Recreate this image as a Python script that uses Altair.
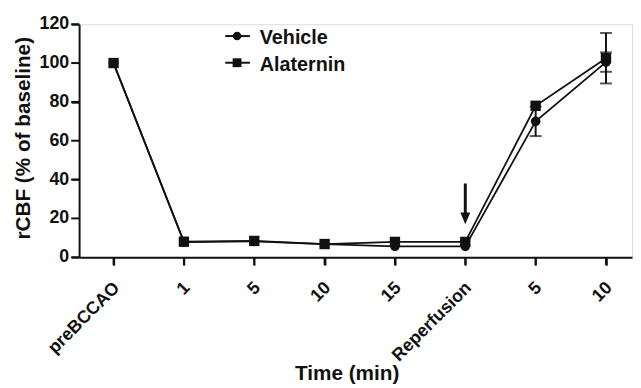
import altair as alt
import pandas as pd

categories = ["preBCCAO", "1", "5", "10", "15", "Reperfusion", "5", "10"]
vehicle = [100, 7.8, 8.2, 6.8, 5.6, 5.6, 70, 100.5]
alaternin = [100, 8.0, 8.4, 6.8, 7.9, 7.9, 78, 102.5]
vehicle_err = [0, 0, 0, 0, 0, 0, 7.6, 5]
alaternin_err = [0, 0, 0, 0, 0, 0, 0, 13]
y_ticks = [0, 20, 40, 60, 80, 100, 120]
series_names = ["Vehicle", "Alaternin"]
arrow_index = 5
arrow_top, arrow_head = 38, 20

FONT = "Liberation Sans"
INK = "#111"
H = 236

rows = []
for i, c in enumerate(categories):
    for name, vals, errs in ((series_names[0], vehicle, vehicle_err), (series_names[1], alaternin, alaternin_err)):
        rows.append({"idx": i, "cat": c, "series": name, "value": vals[i],
                     "lo": vals[i] - errs[i], "hi": vals[i] + errs[i], "err": errs[i]})
df = pd.DataFrame(rows)

label_expr = "[" + ",".join("'" + c + "'" for c in categories) + "][datum.value]"

xscale = alt.Scale(domain=[-0.49, 7.37], nice=False, zero=False)
yscale = alt.Scale(domain=[0, 120], nice=False, zero=True)

x_enc = alt.X("idx:Q", scale=xscale, axis=alt.Axis(
    values=list(range(len(categories))), labelExpr=label_expr, ticks=True,
    title="Time (min)", titleX=271, titleY=118))
y_enc = alt.Y("value:Q", scale=yscale, axis=alt.Axis(
    values=y_ticks, labels=False, ticks=True,
    title="rCBF (% of baseline)", titleX=-56, titleY=115, titleAngle=-90))

lines = alt.Chart(df).mark_line(color=INK, strokeWidth=1.8).encode(
    x=x_enc, y=y_enc, detail="series:N")

# y tick labels and tick marks placed through the y scale
ytick_df = pd.DataFrame({"v": y_ticks, "t": [str(v) for v in y_ticks]})
ylabels = alt.Chart(ytick_df).mark_text(
    align="right", baseline="middle", font=FONT, fontSize=18, fontWeight="bold",
    color=INK).encode(x=alt.value(-10), y="v:Q", text="t:N")
yticks = alt.Chart(ytick_df).mark_rule(color=INK, strokeWidth=2).encode(
    x=alt.value(-8), x2=alt.value(0), y="v:Q")

xtick_df = pd.DataFrame({"idx": list(range(len(categories)))})
xticks = alt.Chart(xtick_df).mark_rule(color=INK, strokeWidth=2).encode(
    x="idx:Q", y=alt.value(H), y2=alt.value(H + 8))

err_df = df[df["err"] > 0]
err_rule = alt.Chart(err_df).mark_rule(color=INK, strokeWidth=2).encode(
    x="idx:Q", y="lo:Q", y2="hi:Q")
cap_lo = alt.Chart(err_df).mark_tick(color=INK, orient="horizontal", size=12, thickness=2).encode(
    x="idx:Q", y="lo:Q")
cap_hi = alt.Chart(err_df).mark_tick(color=INK, orient="horizontal", size=12, thickness=2).encode(
    x="idx:Q", y="hi:Q")

circles = alt.Chart(df[df["series"] == "Vehicle"]).mark_point(
    shape="circle", filled=True, color=INK, size=95, opacity=1).encode(x="idx:Q", y="value:Q")
squares = alt.Chart(df[df["series"] == "Alaternin"]).mark_point(
    shape="square", filled=True, color=INK, size=110, opacity=1).encode(x="idx:Q", y="value:Q")

arrow_df = pd.DataFrame({"idx": [arrow_index], "top": [arrow_top], "head": [arrow_head]})
arrow_shaft = alt.Chart(arrow_df).mark_rule(color=INK, strokeWidth=3).encode(
    x="idx:Q", y="top:Q", y2=alt.Y2("head:Q"))
arrow_tip = alt.Chart(arrow_df).mark_point(
    shape="M-1,-1.2L1,-1.2L0,1.2Z", filled=True, color=INK, size=100, opacity=1).encode(
    x="idx:Q", y="head:Q")

one = alt.Data(values=[{}])
legend_layers = []
for k, (name, shape, sz) in enumerate(((series_names[0], "circle", 75), (series_names[1], "square", 80))):
    yy = 12 + 27 * k
    legend_layers.append(alt.Chart(one).mark_rule(color=INK, strokeWidth=2).encode(
        x=alt.value(148), x2=alt.value(173), y=alt.value(yy)))
    legend_layers.append(alt.Chart(one).mark_point(
        shape=shape, filled=True, color=INK, size=sz, opacity=1).encode(
        x=alt.value(160), y=alt.value(yy)))
    legend_layers.append(alt.Chart(one).mark_text(
        text=name, align="left", baseline="middle", font=FONT, fontSize=20,
        fontWeight="bold", color=INK).encode(x=alt.value(183), y=alt.value(yy + 2)))

chart = alt.layer(lines, ylabels, yticks, xticks, err_rule, cap_lo, cap_hi, circles, squares,
                  arrow_shaft, arrow_tip, *legend_layers).properties(
    width=560, height=H,
    autosize=alt.AutoSizeParams(type="none"),
    padding={"left": 72, "top": 14, "right": 1, "bottom": 130},
).configure_view(strokeWidth=0).configure(background="white").configure_axis(
    labelFont=FONT, labelFontWeight="bold", labelColor=INK, labelFontSize=18,
    labelOverlap=False, labelBound=False, labelFlush=False,
    tickSize=8, tickWidth=2, tickColor=INK, domainWidth=2, domainColor=INK,
    grid=False, titleFont=FONT, titleFontSize=21, titleFontWeight="bold",
    titleColor=INK, titleBaseline="middle", titleAlign="center",
).configure_axisX(
    labelAngle=-45, labelAlign="right", labelBaseline="middle", labelPadding=20,
    labelOffset=3,
)

chart.save("out.html", embed_options={"renderer": "svg", "actions": False})
